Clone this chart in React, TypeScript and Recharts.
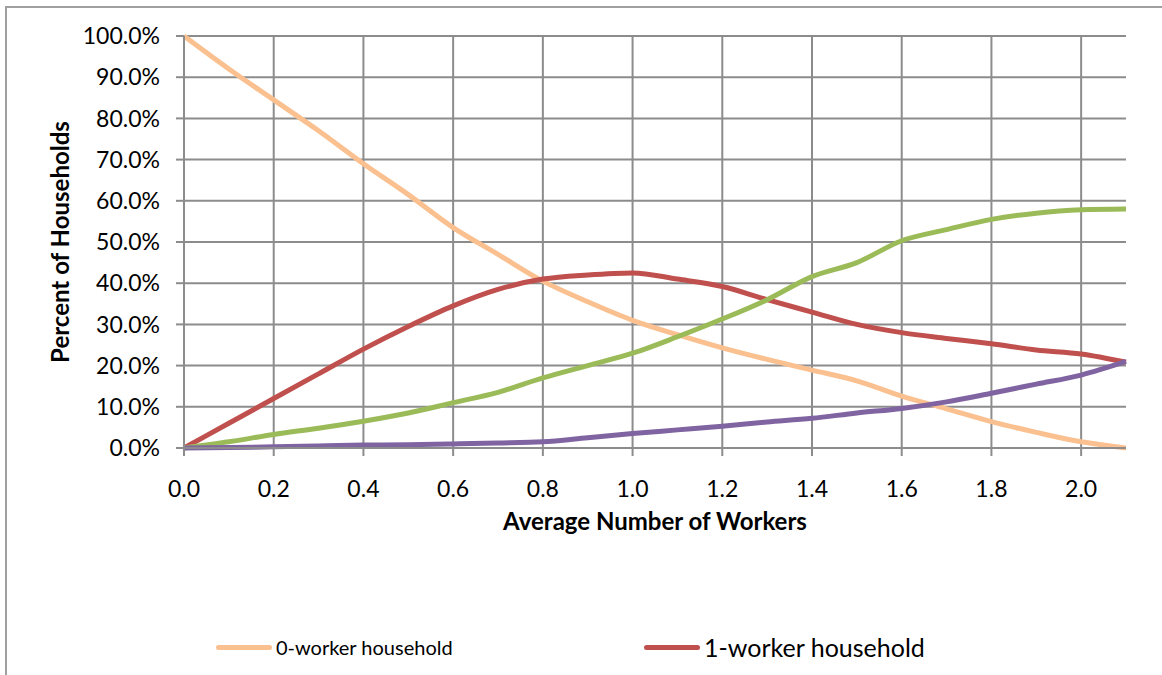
import React from 'react';
import { LineChart, Line, XAxis, YAxis, CartesianGrid, Label } from 'recharts';

const workers = [0, 0.1, 0.2, 0.3, 0.4, 0.5, 0.6, 0.7, 0.8, 0.9, 1.0, 1.1, 1.2, 1.3, 1.4, 1.5, 1.6, 1.7, 1.8, 1.9, 2.0, 2.1];

const zeroWorker = [100, 92, 84.5, 77, 69, 61.5, 53.5, 47, 40.5, 35.5, 31, 27.5, 24.3, 21.5, 18.9, 16.3, 12.6, 9.5, 6.4, 3.8, 1.5, 0];
const oneWorker = [0, 6, 12, 18, 24, 29.5, 34.5, 38.5, 41, 42, 42.5, 41, 39.2, 36, 33, 30, 28, 26.6, 25.3, 23.8, 22.8, 20.8];
const twoWorker = [0, 1.5, 3.3, 4.8, 6.5, 8.5, 11, 13.5, 17, 20, 23, 27, 31.3, 36, 41.6, 45, 50.3, 53, 55.5, 57, 57.8, 58];
const threeWorker = [0, 0.1, 0.3, 0.5, 0.7, 0.8, 1.0, 1.2, 1.5, 2.5, 3.5, 4.4, 5.3, 6.3, 7.2, 8.5, 9.6, 11.2, 13.3, 15.5, 17.7, 21];

const xTicks = [0, 0.2, 0.4, 0.6, 0.8, 1.0, 1.2, 1.4, 1.6, 1.8, 2.0];
const yTicks = [0, 10, 20, 30, 40, 50, 60, 70, 80, 90, 100];

const series = [
  { key: 'zero', name: '0-worker household', color: '#FAC090', values: zeroWorker },
  { key: 'one', name: '1-worker household', color: '#C0504D', values: oneWorker },
  { key: 'two', name: '2-worker household', color: '#9BBB59', values: twoWorker },
  { key: 'three', name: '3+-worker household', color: '#8064A2', values: threeWorker },
];

const data = workers.map((x, i) => {
  const row: Record<string, number> = { x };
  series.forEach(s => { row[s.key] = s.values[i]; });
  return row;
});

const font = 'Lato, "Liberation Sans", sans-serif';
const gridColor = '#8C8C8C';

export default function App() {
  return (
    <div style={{ position: 'absolute', left: 0, top: 0, width: 1162, height: 675, background: '#fff', fontFamily: font }}>
      <div style={{ position: 'absolute', left: 5, top: 6, width: 1157, height: 669, borderTop: '2px solid #A0A0A0', borderLeft: '2px solid #A0A0A0' }} />
      <LineChart width={1162} height={675} data={data} margin={{ top: 36, right: 36, bottom: 137, left: 74 }}>
        <CartesianGrid stroke={gridColor} strokeWidth={2} horizontalValues={yTicks} verticalValues={xTicks} />
        <XAxis
          dataKey="x"
          type="number"
          domain={[0, 2.1]}
          ticks={xTicks}
          tickFormatter={(v: number) => v.toFixed(1)}
          tick={{ fill: '#000', fontSize: 23, fontFamily: font }}
          tickSize={8}
          tickMargin={25}
          stroke={gridColor}
          strokeWidth={2}
          height={90}
        >
          <Label value="Average Number of Workers" position="insideBottom" offset={8} style={{ fontWeight: 700, fontSize: 24, fill: '#000', fontFamily: font }} />
        </XAxis>
        <YAxis
          type="number"
          domain={[0, 100]}
          ticks={yTicks}
          tickFormatter={(v: number) => v.toFixed(1) + '%'}
          tick={{ fill: '#000', fontSize: 23, fontFamily: font }}
          tickSize={8}
          tickMargin={16}
          stroke={gridColor}
          strokeWidth={2}
          width={110}
        >
          <Label value="Percent of Households" angle={-90} position="insideLeft" offset={-14} style={{ fontWeight: 700, fontSize: 24, fill: '#000', fontFamily: font, textAnchor: 'middle' }} />
        </YAxis>
        {series.map(s => (
          <Line
            key={s.key}
            type="monotone"
            dataKey={s.key}
            name={s.name}
            stroke={s.color}
            strokeWidth={5}
            dot={false}
            isAnimationActive={false}
          />
        ))}
      </LineChart>
      <div style={{ position: 'absolute', left: 216, top: 635, display: 'flex', alignItems: 'center', fontSize: 20, lineHeight: '24px' }}>
        <span style={{ display: 'inline-block', width: 56, height: 5, borderRadius: 3, background: series[0].color, marginRight: 4 }} />
        <span>{series[0].name}</span>
      </div>
      <div style={{ position: 'absolute', left: 644, top: 632, display: 'flex', alignItems: 'center', fontSize: 25, lineHeight: '30px' }}>
        <span style={{ display: 'inline-block', width: 56, height: 5, borderRadius: 3, background: series[1].color, marginRight: 4 }} />
        <span>{series[1].name}</span>
      </div>
    </div>
  );
}
